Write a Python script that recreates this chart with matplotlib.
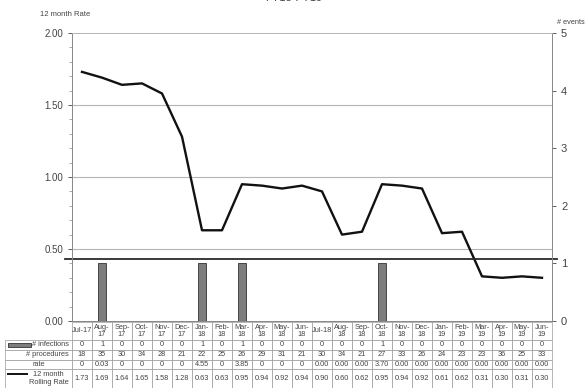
import numpy as np
import matplotlib.pyplot as plt
from matplotlib.patches import Rectangle
from matplotlib.lines import Line2D
from matplotlib.table import Table

plt.rcParams['font.family'] = 'Liberation Sans'

# monthly data Jul-17 .. Jun-19
months = ['Jul-17', 'Aug-17', 'Sep-17', 'Oct-17', 'Nov-17', 'Dec-17',
          'Jan-18', 'Feb-18', 'Mar-18', 'Apr-18', 'May-18', 'Jun-18',
          'Jul-18', 'Aug-18', 'Sep-18', 'Oct-18', 'Nov-18', 'Dec-18',
          'Jan-19', 'Feb-19', 'Mar-19', 'Apr-19', 'May-19', 'Jun-19']
infections = [0, 1, 0, 0, 0, 0, 1, 0, 1, 0, 0, 0,
              0, 0, 0, 1, 0, 0, 0, 0, 0, 0, 0, 0]
procedures = [18, 35, 30, 34, 28, 21, 22, 25, 26, 29, 31, 21,
              30, 34, 21, 27, 33, 26, 24, 23, 23, 36, 25, 33]
rate = ['0', '0.03', '0', '0', '0', '0', '4.55', '0', '3.85', '0', '0', '0',
        '0.00', '0.00', '0.00', '3.70', '0.00', '0.00', '0.00', '0.00',
        '0.00', '0.00', '0.00', '0.00']
rolling = [1.73, 1.69, 1.64, 1.65, 1.58, 1.28, 0.63, 0.63, 0.95, 0.94, 0.92, 0.94,
           0.90, 0.60, 0.62, 0.95, 0.94, 0.92, 0.61, 0.62, 0.31, 0.30, 0.31, 0.30]
benchmark = 0.43

txt = '#444444'
grid = '#b5b5b5'

W, H = 587, 388
fig = plt.figure(figsize=(W / 100, H / 100), dpi=100)
ax = fig.add_axes([72 / W, 1 - 321 / H, 480 / W, 288 / H])
ax2 = ax.twinx()

x = np.arange(len(months))

# infections as bars on the right axis
ax2.bar(x, infections, width=0.42, color='#7d7d7d', edgecolor='#333333', linewidth=0.6)
ax2.set_ylim(0, 5)
ax2.set_yticks(range(0, 6))
ax2.tick_params(axis='y', labelsize=8, colors=txt, length=3, width=0.6)

# rolling rate line on the left axis
ax.plot(x, rolling, color='#111111', lw=1.7, zorder=5)
ax.set_ylim(0, 2)
ax.set_xlim(-0.5, len(months) - 0.5)
ax.set_yticks([0, 0.5, 1.0, 1.5, 2.0])
ax.set_yticklabels(['%.2f' % v for v in [0, 0.5, 1.0, 1.5, 2.0]])
ax.set_yticks(np.arange(0, 2.01, 0.1), minor=True)
ax.tick_params(axis='y', labelsize=7, colors=txt, length=3, width=0.6)
ax.tick_params(axis='y', which='minor', length=2, width=0.5, color='#888888')
ax.set_xticks([])
for v in [0.5, 1.0, 1.5]:
    ax.axhline(v, color=grid, lw=0.8, zorder=0)

for a in (ax, ax2):
    for s in a.spines.values():
        s.set_color('#8a8a8a')
        s.set_linewidth(0.7)
ax.spines['top'].set_color(grid)
ax2.spines['top'].set_color(grid)

# benchmark line
ax.plot([-0.015, 1.01], [benchmark, benchmark], color='#2a2a2a', lw=1.3,
        transform=ax.get_yaxis_transform(), clip_on=False, zorder=6)

# data table under the plot
tab = Table(ax, bbox=[-67 / 480, -67 / 288, 547 / 480, 66 / 288])
row_h = [18, 10, 9.5, 9.5, 19]
col_w = [67] + [20] * len(months)
edge = '#9a9a9a'

header = [m if m.startswith('Jul') else m.replace('-', '-\n') for m in months]
rows = [
    ('', header),
    ('# infections', [str(v) for v in infections]),
    ('# procedures', [str(v) for v in procedures]),
    ('rate', rate),
    ('12 month\nRolling Rate', ['%.2f' % v for v in rolling]),
]
for r, (label, vals) in enumerate(rows):
    c0 = tab.add_cell(r, 0, width=col_w[0], height=row_h[r], text=label,
                      loc='center' if label == 'rate' else 'right',
                      edgecolor=edge, facecolor='white')
    c0.PAD = 0.05
    if r == 0:
        c0.visible_edges = ''
    c0.get_text().set_multialignment('center')
    c0.set_linewidth(0.5)
    for c, v in enumerate(vals, start=1):
        cell = tab.add_cell(r, c, width=col_w[c], height=row_h[r], text=v,
                            loc='center', edgecolor=edge, facecolor='white')
        cell.set_linewidth(0.5)
tab.auto_set_font_size(False)
tab.set_fontsize(5.3)
for cell in tab.get_celld().values():
    cell.get_text().set_color(txt)
    cell.get_text().set_linespacing(1.0)
ax.add_table(tab)

# legend keys inside the row labels
fig.patches.append(Rectangle((8 / W, 1 - 347 / H), 23 / W, 4 / H,
                             transform=fig.transFigure, facecolor='#7d7d7d',
                             edgecolor='#333333', linewidth=0.6))
fig.lines.append(Line2D([8 / W, 27 / W], [1 - 374 / H, 1 - 374 / H],
                        transform=fig.transFigure, color='#111111', lw=1.4))

# titles
fig.text(0.5, 1.004, 'FY18-FY19', ha='center', va='center', fontsize=8, color=txt)
fig.text(40 / W, 1 - 14 / H, '12 month Rate', ha='left', va='center', fontsize=5.5, color=txt)
fig.text(557 / W, 1 - 22 / H, '# events', ha='left', va='center', fontsize=5.3, color=txt)

fig.savefig('out.png', dpi=100)
